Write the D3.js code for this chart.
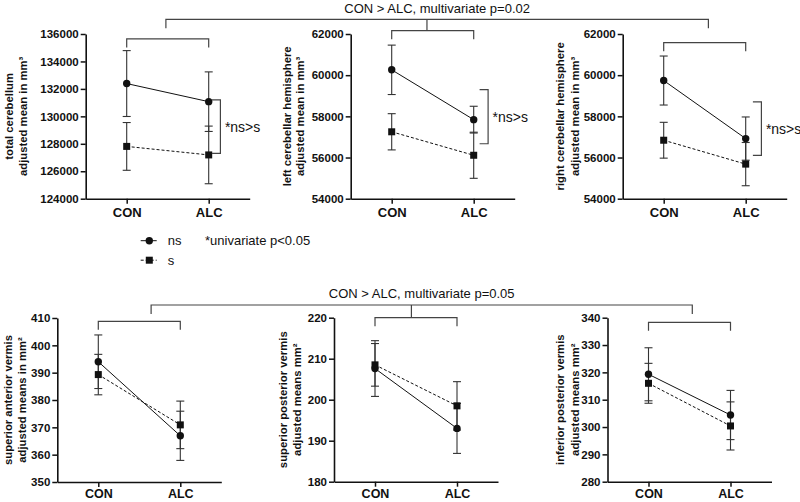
<!DOCTYPE html>
<html><head><meta charset="utf-8">
<script src="https://cdn.jsdelivr.net/npm/d3@7"></script>
<style>
body{margin:0;background:#fff}
svg{display:block}
text{font-family:"Liberation Sans",Arial,Helvetica,sans-serif;fill:#111}
</style>
</head><body>
<svg id="chart" width="800" height="502"></svg>
<script>
// ---------- data ----------
const groups = ["CON", "ALC"];
const seriesNames = ["ns", "s"];

// top row (volumes, mm^3)
const totalNs = [132390, 131070];
const totalNsErr = [2400, 2170];
const totalS = [127810, 127190];
const totalSErr = [1740, 2100];

const leftNs = [60260, 57840];
const leftNsErr = [1200, 650];
const leftS = [57250, 56110];
const leftSErr = [880, 1120];

const rightNs = [59740, 56920];
const rightNsErr = [1190, 1050];
const rightS = [56840, 55680];
const rightSErr = [870, 1050];

// bottom row (areas, mm^2)
const antNs = [394.0, 366.9];
const antNsErr = [9.8, 9.0];
const antS = [389.3, 370.9];
const antSErr = [7.4, 8.7];

const supPostNs = [207.6, 193.0];
const supPostNsErr = [6.8, 6.1];
const supPostS = [208.5, 198.5];
const supPostSErr = [5.2, 5.9];

const infPostNs = [319.3, 304.4];
const infPostNsErr = [9.7, 9.0];
const infPostS = [316.0, 300.4];
const infPostSErr = [7.3, 8.8];

// tick labels
const totalTicks = [124000, 126000, 128000, 130000, 132000, 134000, 136000];
const hemiTicks = [54000, 56000, 58000, 60000, 62000];
const antTicks = [350, 360, 370, 380, 390, 400, 410];
const supPostTicks = [180, 190, 200, 210, 220];
const infPostTicks = [280, 290, 300, 310, 320, 330, 340];

// significance annotations (data units)
const totalSig = [131200, 127300];
const leftSig = [59300, 56670];
const rightSig = [58700, 56100];
const topTitle = "CON > ALC, multivariate p=0.02";
const bottomTitle = "CON > ALC, multivariate p=0.05";
const sigLabel = "*ns>s";
const legendNote = "*univariate p<0.05";

// ---------- layout ----------
const W = 164;
const panels = [
  {ax: 85.7, top: 34, h: 164.7, dom: [124000, 136000], ticks: totalTicks,
   title: ["total cerebellum", "adjusted mean in mm³"], tOff: [-76.5, -62.5],
   ns: totalNs, nsErr: totalNsErr, s: totalS, sErr: totalSErr,
   comp: 135640, join: 0.478, sig: totalSig, sigDx: 11.7, row: 0},
  {ax: 350.7, top: 34, h: 164.7, dom: [54000, 62000], ticks: hemiTicks,
   title: ["left cerebellar hemisphere", "adjusted mean in mm³"], tOff: [-64, -50.5],
   ns: leftNs, nsErr: leftNsErr, s: leftS, sErr: leftSErr,
   comp: 62160, join: 0.43, sig: leftSig, sigDx: 14.4, row: 0, mid: true},
  {ax: 622.7, top: 34, h: 164.7, dom: [54000, 62000], ticks: hemiTicks,
   title: ["right cerebellar hemisphere", "adjusted mean in mm³"], tOff: [-62.7, -48],
   ns: rightNs, nsErr: rightNsErr, s: rightS, sErr: rightSErr,
   comp: 61580, join: 0.545, sig: rightSig, sigDx: 15.7, row: 0},
  {ax: 57.3, top: 318, h: 164, dom: [350, 410], ticks: antTicks,
   title: ["superior anterior vermis", "adjusted means in mm²"], tOff: [-49, -35.6],
   ns: antNs, nsErr: antNsErr, s: antS, sErr: antSErr,
   comp: 408.8, join: 0.644, row: 1},
  {ax: 334, top: 317.7, h: 164, dom: [180, 220], ticks: supPostTicks,
   title: ["superior posterior vermis", "adjusted means mm²"], tOff: [-50.7, -37.3],
   ns: supPostNs, nsErr: supPostNsErr, s: supPostS, sErr: supPostSErr,
   comp: 220, join: 0.444, row: 1, mid: true},
  {ax: 607.5, top: 317.7, h: 164, dom: [280, 340], ticks: infPostTicks,
   title: ["inferior posterior vermis", "adjusted means mm²"], tOff: [-47.5, -32.5],
   ns: infPostNs, nsErr: infPostNsErr, s: infPostS, sErr: infPostSErr,
   comp: 338.3, join: 0.534, row: 1}
];

const svg = d3.select("#chart");
const ink = "#111";
const bracketInk = "#444";
const joinX = [[], []];

panels.forEach(p => {
  const g = svg.append("g").attr("transform", `translate(${p.ax},${p.top})`);
  const x = d3.scalePoint().domain(groups).range([0, W]).padding(0.5);
  const y = d3.scaleLinear().domain(p.dom).range([p.h, 0]);

  // y axis
  const ya = g.append("g").call(d3.axisLeft(y).tickValues(p.ticks).tickSize(5).tickSizeOuter(0)
      .tickPadding(2).tickFormat(d3.format("d")));
  ya.select(".domain").attr("stroke", ink).attr("stroke-width", 1.6);
  ya.selectAll(".tick line").attr("stroke", ink).attr("stroke-width", 1.5);
  ya.selectAll("text").style("font-size", "11.5px").style("font-weight", "bold")
    .style("font-family", "'Liberation Sans',Arial,sans-serif").attr("fill", ink);

  // x axis
  const xa = g.append("g").attr("transform", `translate(0,${p.h})`)
    .call(d3.axisBottom(x).tickSize(5).tickSizeOuter(0).tickPadding(p.row ? 2.5 : 4.5));
  xa.select(".domain").attr("stroke", ink).attr("stroke-width", 1.6);
  xa.selectAll(".tick line").attr("stroke", ink).attr("stroke-width", 1.5);
  xa.selectAll("text").style("font-size", p.row ? "12.5px" : "13px").style("font-weight", "bold")
    .style("font-family", "'Liberation Sans',Arial,sans-serif").attr("fill", ink);

  // y title
  const tg = g.append("g").attr("transform", `translate(0,${p.h / 2})`);
  p.title.forEach((t, i) => {
    tg.append("text").attr("transform", `translate(${p.tOff[i]},0) rotate(-90)`)
      .attr("text-anchor", "middle").attr("dominant-baseline", "central")
      .style("font-size", "11.3px").style("font-weight", "bold").text(t);
  });

  // series
  const series = [
    {name: seriesNames[0], v: p.ns, e: p.nsErr, dash: null},
    {name: seriesNames[1], v: p.s, e: p.sErr, dash: "3,2"}
  ];
  series.forEach(sr => {
    const pts = groups.map((c, i) => ({c, v: sr.v[i], e: sr.e[i]}));
    g.append("path").datum(pts)
      .attr("d", d3.line().x(d => x(d.c)).y(d => y(d.v)))
      .attr("fill", "none").attr("stroke", ink).attr("stroke-width", 1)
      .attr("stroke-dasharray", sr.dash);
    const eb = g.append("g").selectAll("g").data(pts).join("g");
    eb.append("line").attr("x1", d => x(d.c)).attr("x2", d => x(d.c))
      .attr("y1", d => y(d.v - d.e)).attr("y2", d => y(d.v + d.e))
      .attr("stroke", "#333").attr("stroke-width", 1.1);
    [1, -1].forEach(sg => {
      eb.append("line").attr("x1", d => x(d.c) - 4).attr("x2", d => x(d.c) + 4)
        .attr("y1", d => y(d.v + sg * d.e)).attr("y2", d => y(d.v + sg * d.e))
        .attr("stroke", "#333").attr("stroke-width", 1.1);
    });
  });
  // markers
  groups.forEach((c, i) => {
    g.append("circle").attr("cx", x(c)).attr("cy", y(p.ns[i])).attr("r", 3.7).attr("fill", ink);
    g.append("rect").attr("x", x(c) - 3.5).attr("y", y(p.s[i]) - 3.5)
      .attr("width", 7).attr("height", 7).attr("fill", ink);
  });

  // comparison bracket CON vs ALC
  const cy = y(p.comp);
  g.append("path")
    .attr("d", `M${x("CON")},${cy + 8.5}V${cy}H${x("ALC")}V${cy + 8.5}`)
    .attr("fill", "none").attr("stroke", bracketInk).attr("stroke-width", 1.2);
  const jx = p.ax + x("CON") + p.join * (x("ALC") - x("CON"));
  joinX[p.row].push({x: jx, y: p.top + cy, mid: p.mid});

  // ns > s bracket
  if (p.sig) {
    const bx = x("ALC") + p.sigDx;
    const y1 = y(p.sig[0]), y2 = y(p.sig[1]);
    g.append("path").attr("d", `M${bx - 8.5},${y1}H${bx}V${y2}H${bx - 8.5}`)
      .attr("fill", "none").attr("stroke", bracketInk).attr("stroke-width", 1.2);
    g.append("text").attr("x", bx + 4.5).attr("y", (y1 + y2) / 2)
      .attr("dominant-baseline", "central").style("font-size", "14px").text(sigLabel);
  }
});

// overall multivariate brackets
const rowY = [19.3, 305];
const titles = [topTitle, bottomTitle];
joinX.forEach((js, r) => {
  const yy = rowY[r];
  const l = js[0], m = js[1], rr = js[2];
  svg.append("path")
    .attr("d", `M${l.x},${yy + 9}V${yy}H${rr.x}V${yy + 9}M${m.x},${yy}V${m.y}`)
    .attr("fill", "none").attr("stroke", bracketInk).attr("stroke-width", 1.2);
  svg.append("text").attr("x", (l.x + rr.x) / 2).attr("y", yy - 6.7)
    .attr("text-anchor", "middle").style("font-size", "13px").text(titles[r]);
});

// legend
const lg = svg.append("g").attr("transform", "translate(140.7,240.7)");
seriesNames.forEach((n, i) => {
  const gy = i * 19.5;
  lg.append("line").attr("x1", 0).attr("x2", 16).attr("y1", gy).attr("y2", gy)
    .attr("stroke", ink).attr("stroke-width", 1).attr("stroke-dasharray", i ? "3,2" : null);
  if (i === 0) lg.append("circle").attr("cx", 8.6).attr("cy", gy).attr("r", 3.7).attr("fill", ink);
  else lg.append("rect").attr("x", 5.1).attr("y", gy - 3.5).attr("width", 7).attr("height", 7).attr("fill", ink);
  lg.append("text").attr("x", 27).attr("y", gy).attr("dominant-baseline", "central")
    .style("font-size", "13px").text(n);
});
lg.append("text").attr("x", 64.3).attr("y", 0).attr("dominant-baseline", "central")
  .style("font-size", "13px").text(legendNote);
</script>
</body></html>
